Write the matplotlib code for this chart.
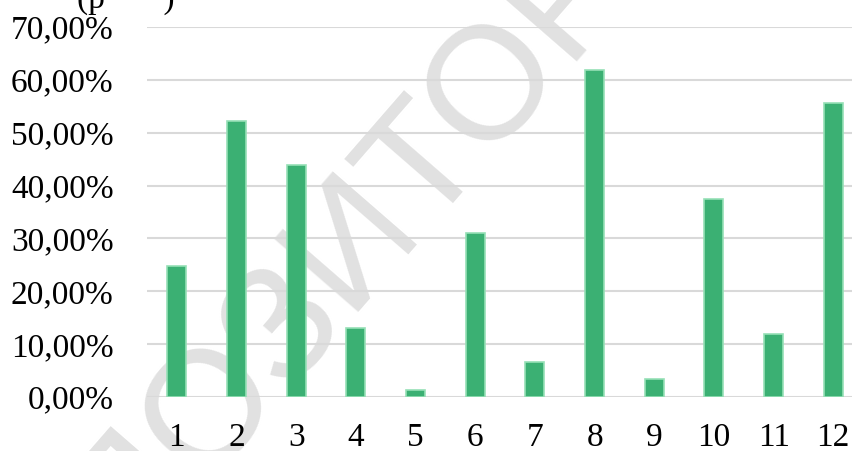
import matplotlib.pyplot as plt
from matplotlib.ticker import FuncFormatter

# values (percent)
categories = ['1', '2', '3', '4', '5', '6', '7', '8', '9', '10', '11', '12']
shares = [24.7, 52.3, 43.8, 13.0, 1.3, 31.0, 6.6, 61.8, 3.4, 37.4, 11.9, 55.6]
y_ticks = [0, 10, 20, 30, 40, 50, 60, 70]

plt.rcParams['font.family'] = ['Liberation Serif', 'DejaVu Serif']

fig = plt.figure(figsize=(8.53, 4.51), dpi=100)
ax = fig.add_axes([147 / 853, 1 - 397 / 451, 1 - 147 / 853, 370 / 451])
ax.set_facecolor('none')

# watermark behind the chart
fig.text(0.415, 0.47, 'РЕПОЗИТОРИЙ', fontsize=116, color='#e1e1e1',
         rotation=49, ha='center', va='center', zorder=-5,
         family=['Liberation Sans', 'DejaVu Sans'])

x = list(range(1, len(categories) + 1))
ax.bar(x, shares, width=0.32, color='#3bb073', edgecolor='#96e0b6',
       linewidth=1.2, zorder=3)

ax.set_ylim(0, 70)
ax.set_xlim(0.5, 12.33)
ax.set_yticks(y_ticks)
ax.yaxis.set_major_formatter(FuncFormatter(lambda v, p: f'{v:.2f}%'.replace('.', ',')))
ax.set_xticks(x)
ax.set_xticklabels(categories)
ax.grid(axis='y', color='#d9d9d9', linewidth=1.5, zorder=0)
ax.tick_params(axis='y', length=0, pad=24, labelsize=24)
ax.tick_params(axis='x', length=0, pad=18, labelsize=24)
for s in ax.spines.values():
    s.set_visible(False)

# title cut off at the top of the picture
fig.text(0.09, 1.0, '(р       )', fontsize=24, ha='left', va='center')

fig.savefig('out.png', dpi=100)
